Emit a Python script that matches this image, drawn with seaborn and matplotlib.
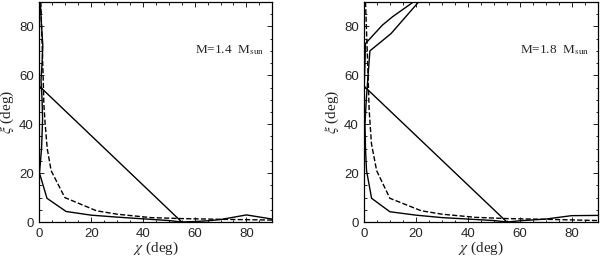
import pandas as pd
import matplotlib
matplotlib.use('Agg')
import matplotlib.pyplot as plt
import seaborn as sns
from matplotlib.ticker import MultipleLocator

# panel labels
masses = ['1.4', '1.8']

# M = 1.4 Msun
chi_a1 = [0, 55, 60, 65, 70, 80, 90]
xi_a1 = [55.5, 0, 0.2, 0.5, 1.0, 2.9, 1.2]
chi_a2 = [0.3, 0.8, 1.3, 1.0, 0.6, 1.0, 1.2, 0.8, 0.0, 2.9, 10.3, 20, 30, 40, 50, 55]
xi_a2 = [90, 80, 72, 65, 58, 50, 42, 30, 20, 9.7, 4.3, 2.8, 2.0, 1.3, 0.6, 0]
chi_a3 = [0.5, 0.8, 1.1, 1.4, 1.7, 2.2, 3.0, 4.5, 9.8, 22, 30, 43, 55, 70, 90]
xi_a3 = [90, 80, 70, 60, 48, 40, 30, 21, 10, 4.6, 3.2, 1.8, 1.4, 1.1, 0.8]

# M = 1.8 Msun
chi_b1 = [19, 11, 7, 0.5, 0.3, 0, 55, 60, 70, 80, 90]
xi_b1 = [90, 84, 80.5, 73, 65, 55.5, 0, 0.5, 1.2, 2.6, 2.7]
chi_b2 = [21, 10.3, 2.2, 1.5, 0.8, 0.3, 0.5, 0.9, 2.85, 9.9, 20, 30, 40, 50, 55]
xi_b2 = [90, 77, 70, 60, 50, 40, 30, 21, 9.7, 4.2, 2.8, 1.8, 1.2, 0.6, 0]
chi_b3 = [0.5, 1.0, 1.5, 1.9, 2.8, 4.8, 9.9, 22, 30, 43, 55, 70, 90]
xi_b3 = [90, 75, 60, 46, 32, 21, 9.7, 4.6, 3.2, 1.9, 1.4, 1.1, 0.6]

sns.set_style('white')
plt.rcParams['mathtext.fontset'] = 'stix'

fig = plt.figure(figsize=(6, 2.58), dpi=100)
ax1 = fig.add_axes([0.0658, 0.1395, 0.388, 0.853])
ax2 = fig.add_axes([0.607, 0.1395, 0.389, 0.853])

panels = [
    (ax1, [(chi_a1, xi_a1, '-'), (chi_a2, xi_a2, '-'), (chi_a3, xi_a3, '--')], masses[0]),
    (ax2, [(chi_b1, xi_b1, '-'), (chi_b2, xi_b2, '-'), (chi_b3, xi_b3, '--')], masses[1]),
]

for ax, curves, m in panels:
    for chi, xi, ls in curves:
        df = pd.DataFrame({'chi': chi, 'xi': xi})
        sns.lineplot(data=df, x='chi', y='xi', ax=ax, sort=False, estimator=None,
                     color='black', linewidth=1.0, linestyle=ls)
    ax.set_xlim(0, 90)
    ax.set_ylim(0, 90)
    ax.xaxis.set_major_locator(MultipleLocator(20))
    ax.yaxis.set_major_locator(MultipleLocator(20))
    ax.xaxis.set_minor_locator(MultipleLocator(5))
    ax.yaxis.set_minor_locator(MultipleLocator(5))
    ax.tick_params(which='both', direction='in', top=True, right=True,
                   bottom=True, left=True, width=0.6, color='black')
    ax.tick_params(which='major', length=3.5, pad=4, labelsize=9.5)
    ax.tick_params(which='minor', length=1.8)
    for lab in ax.get_xticklabels() + ax.get_yticklabels():
        lab.set_family('Liberation Sans')
    for sp in ax.spines.values():
        sp.set_color('black')
        sp.set_linewidth(0.9)
    ax.set_xlabel(r'$\chi$ (deg)', family='Liberation Serif', fontsize=11, labelpad=0)
    ax.set_ylabel(r'$\xi$ (deg)', family='Liberation Serif', fontsize=11, labelpad=2)
    ax.text(60, 70.5, 'M=' + m + r'  M$_{\rm sun}$', family='Liberation Serif',
            fontsize=9.5, va='center', ha='left')

fig.savefig('out.png', dpi=100)
